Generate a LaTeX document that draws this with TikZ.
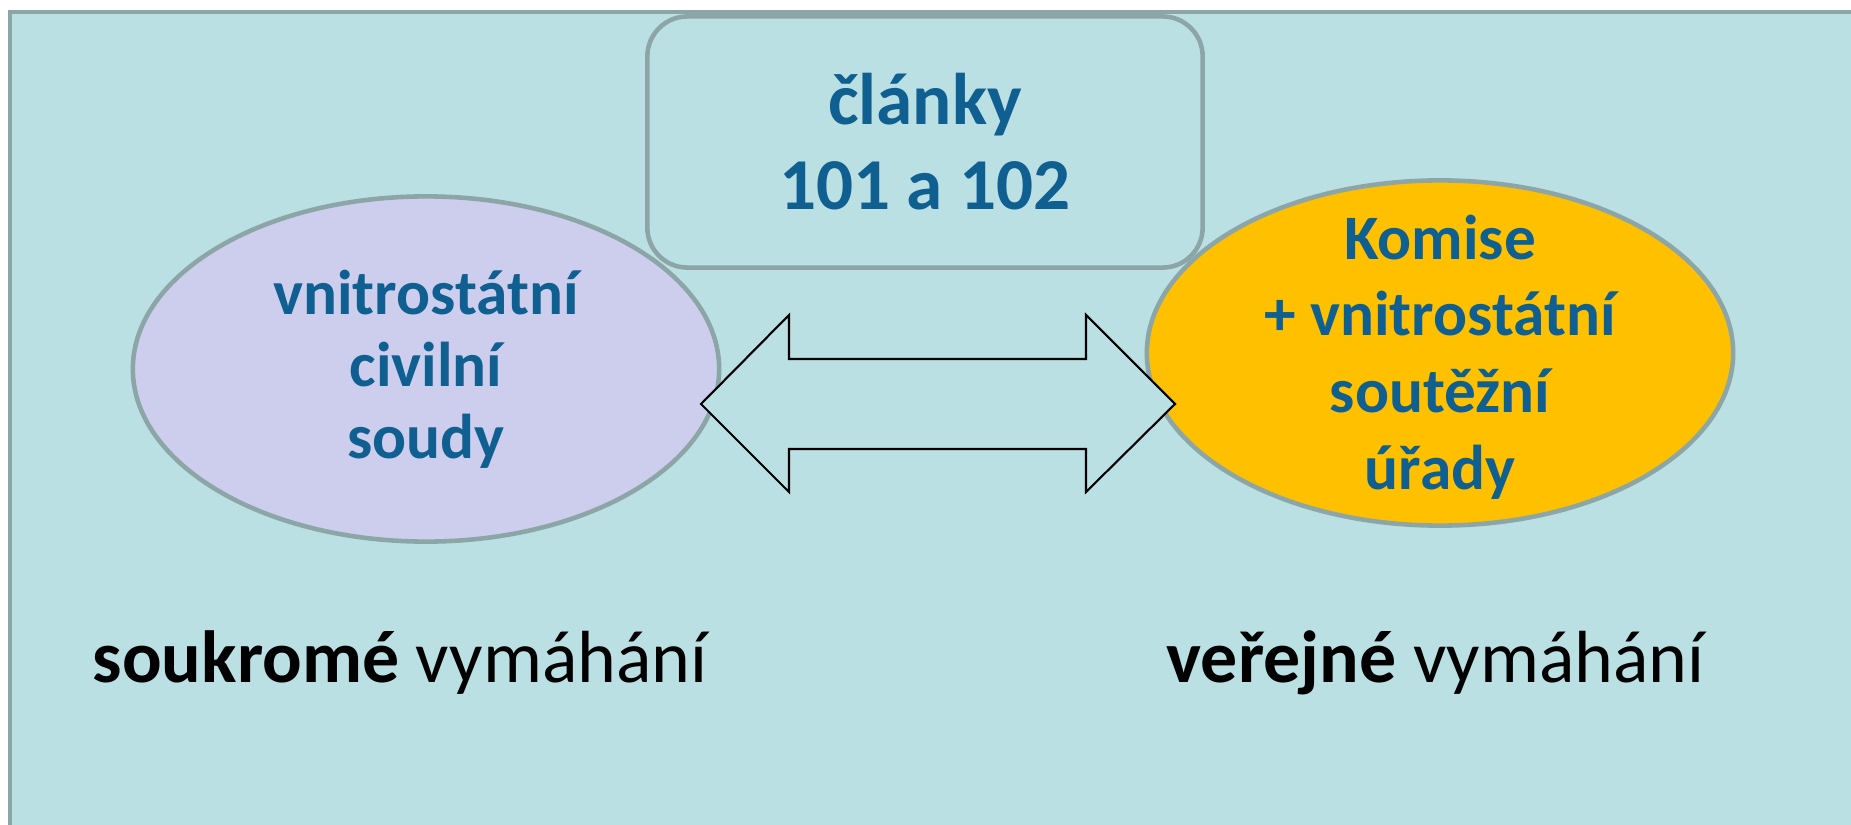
\documentclass[tikz,border=0pt]{standalone}
\usepackage{fontspec}
\setmainfont{Carlito}
\usetikzlibrary{shapes.geometric,positioning}

\definecolor{plocha}{RGB}{187,224,227}
\definecolor{okraj}{RGB}{140,166,168}
\definecolor{fialova}{RGB}{205,206,237}
\definecolor{zluta}{RGB}{255,192,0}
\definecolor{modra}{RGB}{16,95,145}

\begin{document}
\begin{tikzpicture}[x=0.01cm,y=-0.01cm,
    kruh/.style={ellipse,draw=okraj,line width=1.3pt,inner sep=0pt,
      minimum width=5.86cm,minimum height=3.45cm},
    napis/.style={align=center,text=modra,inner sep=0pt},
    ramec/.style={draw=okraj,line width=1.3pt,fill=plocha,rounded corners=0.4cm,
      minimum width=5.55cm,minimum height=2.51cm,align=center,text=modra,
      font=\bfseries\fontsize{20.8}{24.2}\selectfont},
    sipka/.style={draw=black,line width=0.6pt,fill=plocha,line join=miter},
    popis/.style={anchor=base west,inner sep=0pt,font=\fontsize{21}{25}\selectfont}]

  \useasboundingbox (0,0) rectangle (1851,824);
  \clip (0,0) rectangle (1851,824);
  \draw[draw=okraj,line width=1.4pt,fill=plocha] (10,12) rectangle (1900,900); % pozadi

  \node[kruh,fill=fialova] (civil) at (426,369) {};
  \node[napis,font=\bfseries\fontsize{18}{20.5}\selectfont]
    (civiltext) at (civil.center) {vnitrostátní\\civilní\\soudy};
  \node[kruh,fill=zluta] (komise) at (1440,353) {};
  \node[napis,font=\bfseries\fontsize{18}{21.8}\selectfont]
    (komisetext) at ([yshift=-0.04cm]komise.center) {Komise\\+ vnitrostátní\\soutěžní\\úřady};

  \node[ramec] (clanky) at (925,142) {články\\101 a 102};

  \draw[sipka] (701,404) -- (789,315) -- (789,359) -- (1086,359) -- (1086,315)
    -- (1175,404) -- (1086,492) -- (1086,449) -- (789,449) -- (789,492) -- cycle; % obousmerna sipka

  \node[popis] (soukrome) at (92,682) {\textbf{soukromé} vymáhání};
  \node[popis] (verejne) at (1166,682) {\textbf{veřejné} vymáhání};

\end{tikzpicture}
\end{document}
